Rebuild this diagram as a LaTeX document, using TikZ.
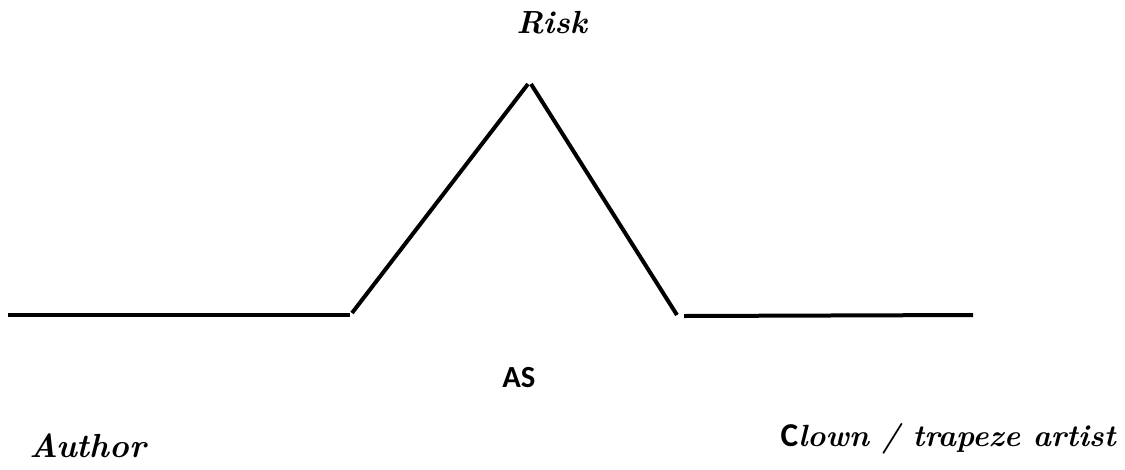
\documentclass[tikz,border=0pt]{standalone}
\usepackage{fontspec}
\newfontfamily\carlito{Carlito}
\begin{document}
\begin{tikzpicture}[x=0.75pt,y=-0.75pt,
  seg/.style={line width=3pt,black},
  script/.style={inner sep=0pt,font=\fontsize{25}{30}\selectfont\bfseries\itshape},
  bold/.style={inner sep=0pt,font=\fontsize{23}{28}\selectfont\carlito\bfseries}]
\useasboundingbox (0,0) rectangle (1125,469);
\coordinate (l1) at (8,315);
\coordinate (l2) at (350,315);
\coordinate (u1) at (352,313);
\coordinate (u2) at (528,84);
\coordinate (d1) at (531,84);
\coordinate (d2) at (677,315);
\coordinate (r1) at (684,316);
\coordinate (r2) at (973,315);
\draw[seg] (l1) -- (l2);
\draw[seg] (u1) -- (u2);
\draw[seg] (d1) -- (d2);
\draw[seg] (r1) -- (r2);
\node[script,anchor=base west,font=\fontsize{24}{29}\selectfont\bfseries\itshape] (risk) at (516,33) {Risk};
\node[bold,anchor=base west] (as) at (502,387) {AS};
\node[script,anchor=base west] (author) at (29,457) {Author};
\node[script,anchor=base east,font=\fontsize{23}{28}\selectfont\bfseries\itshape] (clown) at (1116,446) {{\carlito\bfseries\upshape\fontsize{25}{30}\selectfont C}lown / trapeze artist};
\end{tikzpicture}
\end{document}
